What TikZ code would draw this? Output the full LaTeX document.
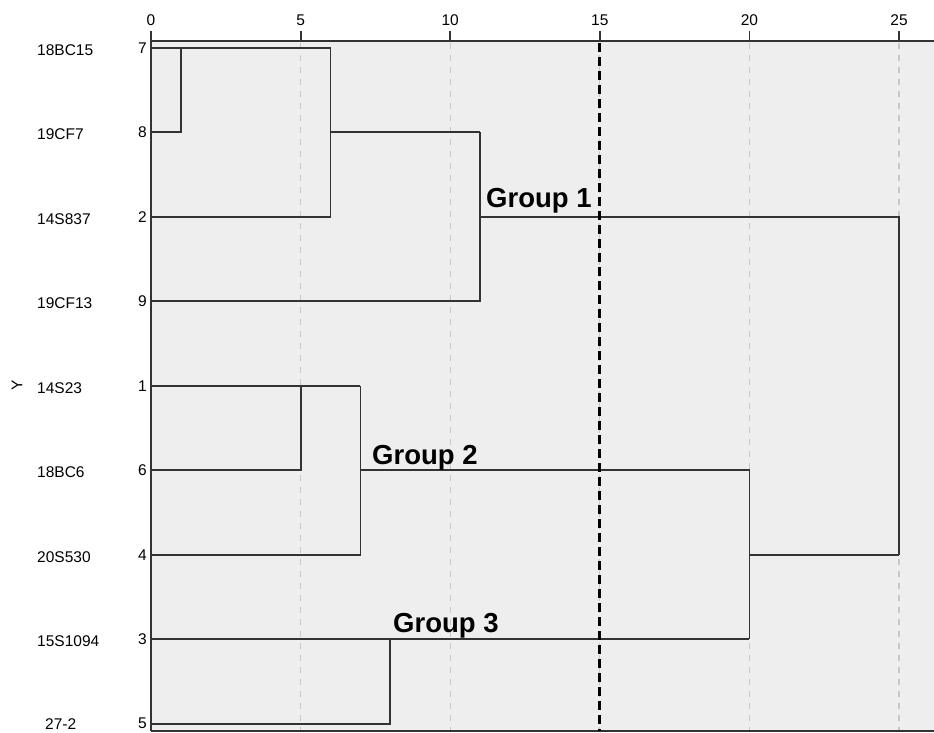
\documentclass[tikz,border=0pt]{standalone}
\usepackage{fontspec}
\setmainfont{Liberation Sans}
\begin{document}
\begin{tikzpicture}[x=1pt,y=-1pt,
  dend/.style={draw=black!80,line width=1.8pt},
  grid/.style={draw=black!22,line width=1.2pt,dash pattern=on 6pt off 6pt},
  cut/.style={draw=black,line width=2.8pt,dash pattern=on 9pt off 5pt},
  axis/.style={draw=black!80,line width=1.8pt},
  lbl/.style={font=\fontsize{15.5}{18}\selectfont,inner sep=0pt},
  grp/.style={font=\fontsize{27.5}{32}\selectfont\bfseries,inner sep=0pt,anchor=base west}]
\useasboundingbox (0,0) rectangle (934,733);
\fill[white] (0,0) rectangle (934,733);
\fill[black!6.5] (151,41) rectangle (934,731);
% grid lines
\foreach \u in {5,10,15,20,25}{
  \draw[grid] (151+29.92*\u,43) -- (151+29.92*\u,731);
}
% axes
\draw[axis] (151,41) -- (934,41);
\draw[axis] (151,731) -- (934,731);
\draw[axis] (151,31) -- (151,731);
\foreach \u in {0,5,10,15,20,25}{
  \draw[axis] (151+29.92*\u,31) -- (151+29.92*\u,41);
  \node[lbl] (t\u) at (151+29.92*\u,20) {\u};
}
% leaf labels
\foreach \y/\n/\name in {48/7/18BC15,132/8/19CF7,217/2/14S837,301/9/19CF13,386/1/14S23,470/6/18BC6,555/4/20S530,639/3/15S1094}{
  \node[lbl,anchor=east] (n\n) at (147,\y) {\n};
  \node[lbl,anchor=west] (s\n) at (37,\y+2) {\name};
}
\node[lbl,anchor=east] (n5) at (147,723) {5};
\node[lbl,anchor=west] (s5) at (45,724) {27-2};
\node[lbl,rotate=90] (ylab) at (17,385) {Y};
% dendrogram
\begin{scope}[shift={(151,0)},x=29.92pt]
  \coordinate (L7) at (0,48);
  \coordinate (L8) at (0,132);
  \coordinate (L2) at (0,217);
  \coordinate (L9) at (0,301);
  \coordinate (L1) at (0,386);
  \coordinate (L6) at (0,470);
  \coordinate (L4) at (0,555);
  \coordinate (L3) at (0,639);
  \coordinate (L5) at (0,724);
  % cluster 7-8 at 1, with 2 at 6, with 9 at 11
  \draw[dend] (L8) -| (1,48);
  \draw[dend] (L7) -- (6,48);
  \draw[dend] (L2) -| (6,48);
  \draw[dend] (6,132) -- (11,132);
  \draw[dend] (L9) -| (11,132);
  \draw[dend] (11,217) -| (25,555);
  % cluster 1-6 at 5, with 4 at 7
  \draw[dend] (L6) -| (5,386);
  \draw[dend] (L1) -- (7,386);
  \draw[dend] (L4) -| (7,386);
  \draw[dend] (7,470) -| (20,639);
  % cluster 3-5 at 8
  \draw[dend] (L3) -- (20,639);
  \draw[dend] (L5) -| (8,639);
  \draw[dend] (20,555) -- (25,555);
  % cut line
  \draw[cut] (15,43) -- (15,731);
\end{scope}
% group labels
\node[grp] (g1) at (486,207) {Group 1};
\node[grp] (g2) at (372,464) {Group 2};
\node[grp] (g3) at (393,632) {Group 3};
\end{tikzpicture}
\end{document}
